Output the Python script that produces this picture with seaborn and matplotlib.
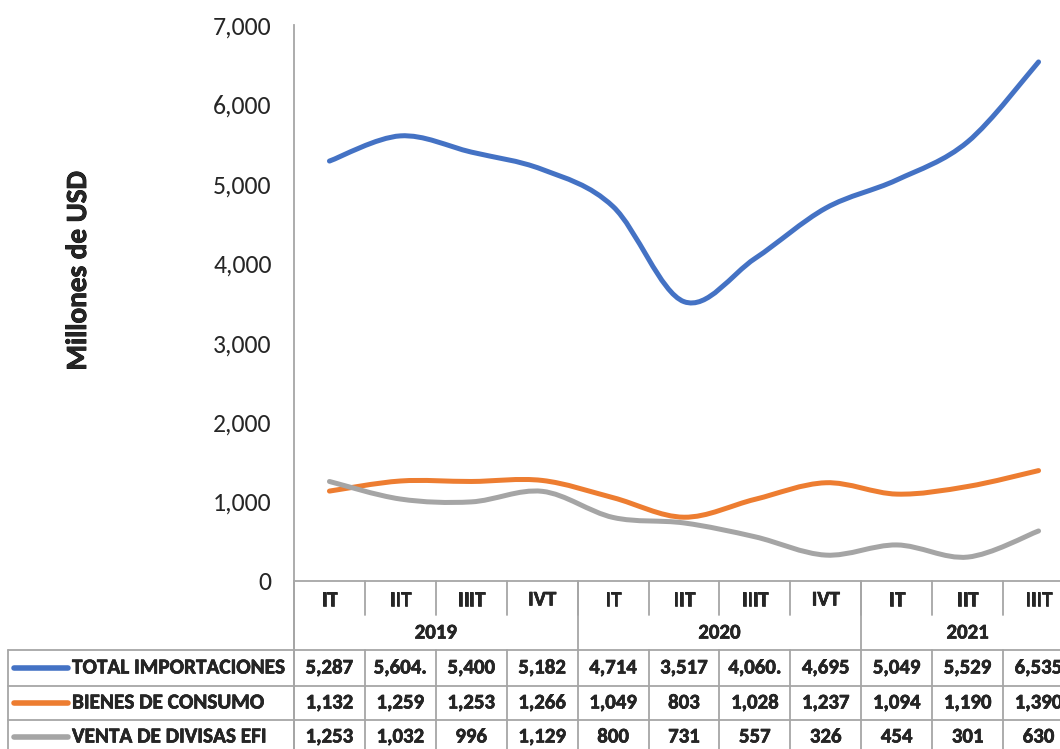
import numpy as np
import matplotlib
matplotlib.use('Agg')
import matplotlib.pyplot as plt
from matplotlib import font_manager
from matplotlib import patheffects as pe
from matplotlib.path import Path
from matplotlib.patches import PathPatch
from matplotlib.transforms import blended_transform_factory
import seaborn as sns

#%% data
quarters   = ['IT', 'IIT', 'IIIT', 'IVT', 'IT', 'IIT', 'IIIT', 'IVT', 'IT', 'IIT', 'IIIT']
years      = ['2019', '2020', '2021']
year_span  = [(0, 4), (4, 8), (8, 11)]   # quarter index range per year
total_imp  = [5287, 5604, 5400, 5182, 4714, 3517, 4060, 4695, 5049, 5529, 6535]
bienes     = [1132, 1259, 1253, 1266, 1049, 803, 1028, 1237, 1094, 1190, 1390]
venta_efi  = [1253, 1032, 996, 1129, 800, 731, 557, 326, 454, 301, 630]
total_lbl  = ['5,287', '5,604.', '5,400', '5,182', '4,714', '3,517', '4,060.', '4,695', '5,049', '5,529', '6,535']
series_names = ['TOTAL IMPORTACIONES', 'BIENES DE CONSUMO', 'VENTA DE DIVISAS EFI']
yticks     = [0, 1000, 2000, 3000, 4000, 5000, 6000, 7000]

#%% style
sns.set_style('white')
installed = {f.name for f in font_manager.fontManager.ttflist}
fam = next(f for f in ['Carlito', 'Calibri', 'Lato', 'DejaVu Sans'] if f in installed)
plt.rcParams['font.family'] = [fam, 'DejaVu Sans']

colors   = ['#4472C4', '#ED7D31', '#A5A5A5']
gridcol  = '#A6A6A6'
W, H     = 1060, 749
heavy    = [pe.withStroke(linewidth=0.4, foreground='black')]  # bolder text look

def fy(py):  # pixel from top -> figure fraction
    return 1 - py / H

def fx(px):
    return px / W

def smooth_path(x, y):
    # bezier smoothing like the spreadsheet "smoothed line" option
    n = len(x)
    verts, codes = [(x[0], y[0])], [Path.MOVETO]
    for i in range(n - 1):
        xp, yp = (x[i-1], y[i-1]) if i > 0 else (x[i], y[i])
        xn, yn = (x[i+2], y[i+2]) if i + 2 < n else (x[i+1], y[i+1])
        c1 = (x[i] + (x[i+1] - xp) / 6, y[i] + (y[i+1] - yp) / 6)
        c2 = (x[i+1] - (xn - x[i]) / 6, y[i+1] - (yn - y[i]) / 6)
        verts += [c1, c2, (x[i+1], y[i+1])]
        codes += [Path.CURVE4] * 3
    return Path(verts, codes)

fig = plt.figure(figsize=(W / 100, H / 100), dpi=100)
ax = fig.add_axes([fx(294), fy(581), fx(1074) - fx(294), fy(25) - fy(581)])

xs = np.arange(len(quarters))
for vals, col in zip([total_imp, bienes, venta_efi], colors):
    ax.add_patch(PathPatch(smooth_path(xs, np.array(vals, float)), fill=False, edgecolor=col,
                           lw=3.6, capstyle='round', joinstyle='round'))

ax.set_xlim(-0.5, len(quarters) - 0.5)
ax.set_ylim(0, 7000)
ax.set_yticks(yticks)
ax.set_yticklabels(['{:,}'.format(v) for v in yticks], fontsize=18.5)
ax.tick_params(axis='y', length=0, pad=16)
ax.set_xticks([])
sns.despine(ax=ax, top=True, right=True)
for s in ['left', 'bottom']:
    ax.spines[s].set_color(gridcol)
    ax.spines[s].set_linewidth(1.3)

fig.text(fx(78), fy(271), 'Millones de USD', rotation=90, ha='center', va='center',
         fontsize=21, fontweight='bold', path_effects=[pe.withStroke(linewidth=0.6, foreground='black')])

#%% data table under the axis
tr = blended_transform_factory(ax.transData, fig.transFigure)
lk = dict(color=gridcol, lw=1.3, clip_on=False)
nq = len(quarters)
edges = np.arange(nq + 1) - 0.5

# quarter row separators
for e in edges[1:]:
    ax.plot([e, e], [fy(581), fy(615)], transform=tr, **lk)
# year boundaries through both header rows
for a, b in year_span:
    ax.plot([a - 0.5, a - 0.5], [fy(581), fy(650)], transform=tr, **lk)
# data row column lines
for e in edges:
    ax.plot([e, e], [fy(650), fy(760)], transform=tr, **lk)
# horizontal lines
for py in [650, 686, 720]:
    fig.add_artist(plt.Line2D([fx(8), fx(1080)], [fy(py), fy(py)], color=gridcol, lw=1.3))
fig.add_artist(plt.Line2D([fx(8), fx(8)], [fy(650), fy(760)], color=gridcol, lw=1.3))
fig.add_artist(plt.Line2D([fx(294), fx(294)], [fy(581), fy(760)], color=gridcol, lw=1.3))

tk = dict(transform=tr, ha='center', va='center', fontsize=15, fontweight='bold',
          clip_on=False, path_effects=heavy)
for i, q in enumerate(quarters):
    ax.text(i, fy(600), q, **tk)
for yr, (a, b) in zip(years, year_span):
    ax.text((a + b - 1) / 2, fy(633), yr, **tk)

row_y = [668, 703, 737]
row_lbls = [total_lbl,
            ['{:,}'.format(v) for v in bienes],
            ['{:,}'.format(v) for v in venta_efi]]
for name, col, py, lbls in zip(series_names, colors, row_y, row_lbls):
    fig.add_artist(plt.Line2D([fx(14), fx(68)], [fy(py), fy(py)], color=col, lw=4,
                              solid_capstyle='round'))
    fig.text(fx(72), fy(py), name, ha='left', va='center', fontsize=15.3, fontweight='bold',
             path_effects=heavy)
    for i, s in enumerate(lbls):
        ax.text(i, fy(py), s, **tk)

fig.savefig('out.png', dpi=100)
